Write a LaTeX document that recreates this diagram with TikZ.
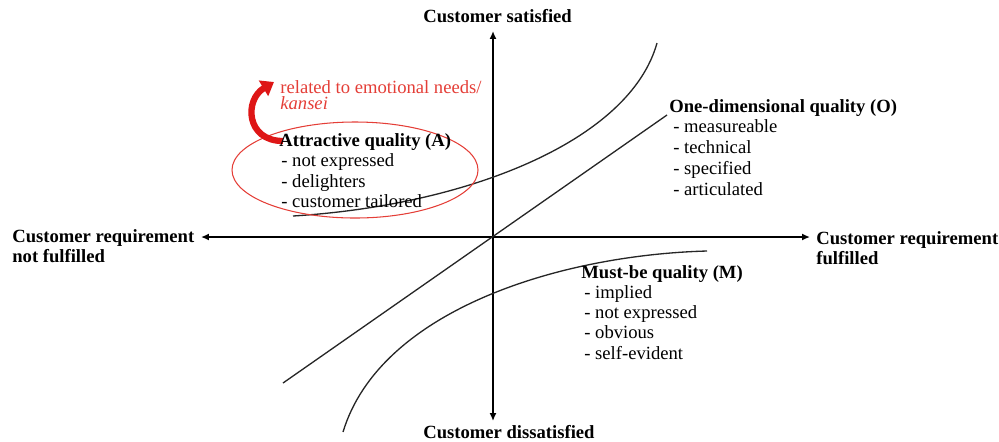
\documentclass[tikz,border=0pt]{standalone}
\usepackage{fontspec}
\setmainfont{Liberation Serif}
\usetikzlibrary{arrows.meta}
\definecolor{kanseired}{RGB}{228,62,55}
\definecolor{arrowred}{RGB}{222,22,22}
\tikzset{every node/.style={inner sep=0pt,anchor=base west,font=\fontsize{10.6}{12}\selectfont}}
\tikzset{head/.style={font=\fontsize{10.6}{12}\selectfont\bfseries}}
\tikzset{axis/.style={line width=1.1pt,{Latex[length=4.5pt,width=4pt]}-{Latex[length=4.5pt,width=4pt]}}}
\tikzset{curve/.style={line width=0.75pt,black!85}}

\begin{document}
\begin{tikzpicture}[x=0.02cm,y=-0.02cm]
      \useasboundingbox (0,0) rectangle (999,441);
      % axes
      \coordinate (top) at (493,31);
      \coordinate (bot) at (493,421);
      \coordinate (lft) at (201,237);
      \coordinate (rgt) at (810,237);
      \draw[axis] (lft) -- (rgt);
      \draw[axis] (top) -- (bot);
      \node[head] (sat) at (423,22) {Customer satisfied};
      \node[head] (dis) at (423,438) {Customer dissatisfied};
      \node[head] (nf1) at (12,242) {Customer requirement};
      \node[head] (nf2) at (12,262) {not fulfilled};
      \node[head] (f1) at (816,244) {Customer requirement};
      \node[head] (f2) at (816,264) {fulfilled};
      % quality curves
      \draw[curve] (293,216) .. controls (470,205) and (630,140) .. (657,43);
      \draw[curve] (283,383) -- (667,115);
      \draw[curve] (343,432) .. controls (380,310) and (560,255) .. (707,251);
      % attractive quality
      \draw[kanseired,line width=0.6pt] (355,170) ellipse [x radius=123,y radius=48];
      \node[kanseired] (emo1) at (280,93) {related to emotional needs/};
      \node[kanseired] (emo2) at (280,109) {\itshape kansei};
      \coordinate (ka1) at (283,141);
      \coordinate (ka2) at (274,82);
      \draw[arrowred,line width=3.6pt,-{Triangle[length=7pt,width=10pt]}] (ka1) .. controls (246,141) and (244,100) .. (ka2);
      \node[head] (attr) at (279,146) {Attractive quality (A)};
      \foreach \t [count=\i] in {not expressed, delighters, customer tailored}
        \node (a\i) at (281,146+20.5*\i) {- \t};
      % one-dimensional quality
      \node[head] (oned) at (669,112) {One-dimensional quality (O)};
      \foreach \t [count=\i] in {measureable, technical, specified, articulated}
        \node (o\i) at (673,112+20.9*\i) {- \t};
      % must-be quality
      \node[head] (must) at (581,278) {Must-be quality (M)};
      \foreach \t [count=\i] in {implied, not expressed, obvious, self-evident}
        \node (m\i) at (584,278+20.3*\i) {- \t};
\end{tikzpicture}
\end{document}
